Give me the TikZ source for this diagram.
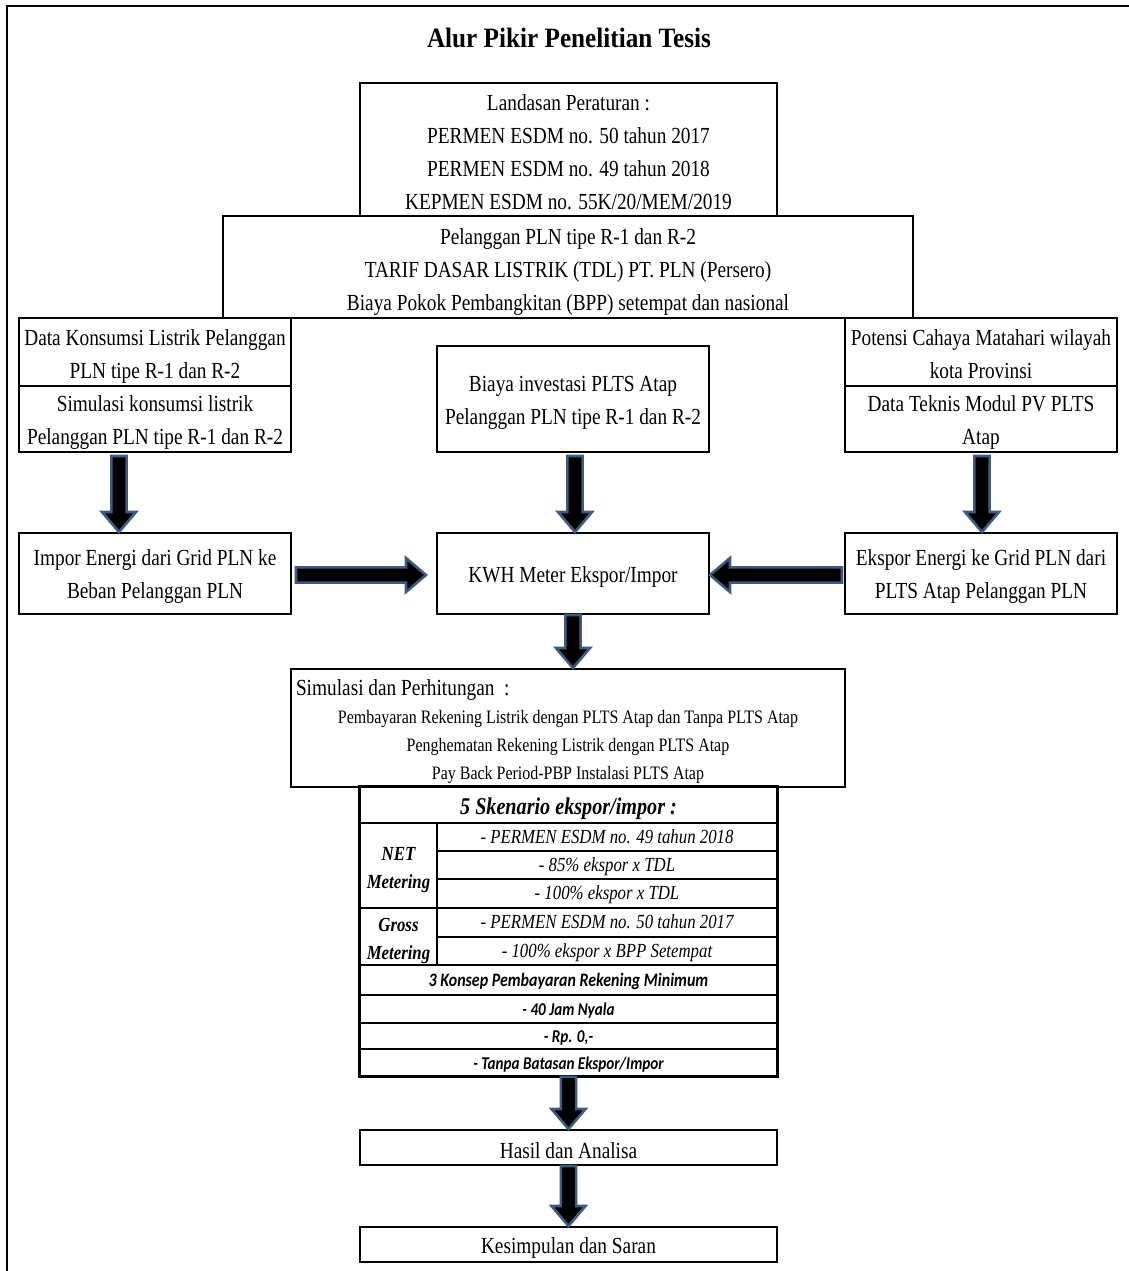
\documentclass[tikz,border=0pt]{standalone}
\usepackage{fontspec}
\setmainfont{Liberation Serif}[FakeStretch=0.84]
\newfontfamily\titlefont{Liberation Serif}[FakeStretch=0.9]
\newfontfamily\calfont{Carlito}[FakeStretch=0.84]
\usetikzlibrary{calc,positioning}
\definecolor{arrowblue}{RGB}{62,92,130}
\newcommand{\fsnorm}{\fontsize{11.5pt}{16.5pt}\selectfont}
\newcommand{\fssmall}{\fontsize{9.5pt}{14pt}\selectfont}
\newcommand{\fstab}{\fontsize{10pt}{14pt}\selectfont}
\newcommand{\lift}[1]{\rule{0pt}{#1}}

\begin{document}
\begin{tikzpicture}[x=0.5pt,y=-0.5pt,
  box/.style={draw,line width=1pt,inner sep=0pt,align=center,font=\fsnorm},
  cell/.style={draw,line width=0.9pt,inner sep=0pt,align=center,font=\fstab\itshape},
  rowcell/.style={cell,minimum width=170pt,text height=7.5pt,text depth=1.5pt},
  calcell/.style={cell,minimum width=208.5pt,text height=7.5pt,text depth=1pt,
    font=\calfont\fontsize{9pt}{11pt}\selectfont\bfseries\itshape},
  bigarr/.style={draw=arrowblue,fill=black,line width=1.3pt,line join=miter,
    to path={($(\tikztostart)!3.8pt!90:(\tikztotarget)$)
      -- ($(\tikztotarget)!10pt!(\tikztostart)!3.8pt!-90:(\tikztostart)$)
      -- ($(\tikztotarget)!10pt!(\tikztostart)!8.5pt!-90:(\tikztostart)$)
      -- (\tikztotarget)
      -- ($(\tikztotarget)!10pt!(\tikztostart)!8.5pt!90:(\tikztostart)$)
      -- ($(\tikztotarget)!10pt!(\tikztostart)!3.8pt!90:(\tikztostart)$)
      -- ($(\tikztostart)!3.8pt!-90:(\tikztotarget)$) -- cycle}}
]
\useasboundingbox (0,0) rectangle (1129,1271);
\draw[line width=1.2pt] (1129,6) -- (7,6) -- (7,1271);

\node[font=\titlefont\bfseries\fontsize{14pt}{16pt}\selectfont] (judul) at (569,38) {Alur Pikir Penelitian Tesis};

% regulasi dan tarif
\node[box,minimum width=208.5pt,minimum height=66.5pt] (landasan) at (568.5,149.5)
  {\lift{11pt}Landasan Peraturan :\\PERMEN ESDM no. 50 tahun 2017\\PERMEN ESDM no. 49 tahun 2018\\KEPMEN ESDM no. 55K/20/MEM/2019};
\node[box,minimum width=345pt,minimum height=51pt] (pelanggan) at (568,267)
  {\lift{13pt}Pelanggan PLN tipe R-1 dan R-2\\TARIF DASAR LISTRIK (TDL) PT. PLN (Persero)\\Biaya Pokok Pembangkitan (BPP) setempat dan nasional};

% data masukan
\node[box,minimum width=136pt,minimum height=34pt] (konsumsi) at (155,352) {\lift{12pt}Data Konsumsi Listrik Pelanggan\\PLN tipe R-1 dan R-2};
\node[box,minimum width=136pt,minimum height=33pt] (simkons) at (155,419) {\lift{11pt}Simulasi konsumsi listrik\\Pelanggan PLN tipe R-1 dan R-2};
\node[box,minimum width=136pt,minimum height=53pt] (investasi) at (573,399) {\lift{11pt}Biaya investasi PLTS Atap\\Pelanggan PLN tipe R-1 dan R-2};
\node[box,minimum width=136pt,minimum height=34pt] (potensi) at (981,352) {\lift{10pt}Potensi Cahaya Matahari wilayah\\kota Provinsi};
\node[box,minimum width=136pt,minimum height=33pt] (teknis) at (981,419) {\lift{11pt}Data Teknis Modul PV PLTS\\Atap};

% aliran energi
\node[box,minimum width=136pt,minimum height=40.5pt] (impor) at (155,573.5) {\lift{11pt}Impor Energi dari Grid PLN ke\\Beban Pelanggan PLN};
\node[box,minimum width=136pt,minimum height=40.5pt] (kwh) at (573,573.5) {\lift{11pt}KWH Meter Ekspor/Impor};
\node[box,minimum width=136pt,minimum height=40.5pt] (ekspor) at (981,573.5) {\lift{11pt}Ekspor Energi ke Grid PLN dari\\PLTS Atap Pelanggan PLN};

\node[box,minimum width=277pt,minimum height=59pt] (simulasi) at (568,728)
  {\begin{minipage}{272pt}\fsnorm\lift{12pt}Simulasi dan Perhitungan~~:\par
   \centering\fssmall Pembayaran Rekening Listrik dengan PLTS Atap dan Tanpa PLTS Atap\\
   Penghematan Rekening Listrik dengan PLTS Atap\\
   Pay Back Period-PBP Instalasi PLTS Atap\end{minipage}};

% tabel skenario
\node[cell,minimum width=208.5pt,minimum height=18pt,font=\fontsize{12pt}{14pt}\selectfont\bfseries\itshape] (skenario) at (568.5,805) {\lift{12pt}5 Skenario ekspor/impor :};
\node[cell,minimum width=38.5pt,minimum height=42.5pt,font=\fstab\bfseries\itshape] (net) at (398.5,865.5) {\lift{11pt}NET\\Metering};
\node[cell,minimum width=38.5pt,minimum height=28.5pt,font=\fstab\bfseries\itshape] (gross) at (398.5,936.5) {\lift{11pt}Gross\\Metering};
\node[rowcell,minimum height=14pt] (r1) at (607,837) {- PERMEN ESDM no. 49 tahun 2018};
\node[rowcell,minimum height=14pt] (r2) at (607,865) {- 85\% ekspor x TDL};
\node[rowcell,minimum height=14.5pt] (r3) at (607,893.5) {- 100\% ekspor x TDL};
\node[rowcell,minimum height=14.5pt] (r4) at (607,922.5) {- PERMEN ESDM no. 50 tahun 2017};
\node[rowcell,minimum height=14pt] (r5) at (607,951) {- 100\% ekspor x BPP Setempat};
\node[calcell,minimum height=15pt,font=\calfont\fontsize{9.5pt}{11pt}\selectfont\bfseries\itshape] (konsep) at (568.5,980) {3 Konsep Pembayaran Rekening Minimum};
\node[calcell,minimum height=14pt] (jam) at (568.5,1009) {- 40 Jam Nyala};
\node[calcell,minimum height=13pt] (rp) at (568.5,1036) {- Rp. 0,-};
\node[calcell,minimum height=13.5pt] (tanpa) at (568.5,1062.5) {- Tanpa Batasan Ekspor/Impor};
\draw[line width=1.2pt] (skenario.north west) rectangle (tanpa.south east);

\node[box,minimum width=208.5pt,minimum height=17.5pt] (hasil) at (568.5,1147.5) {\lift{11pt}Hasil dan Analisa};
\node[box,minimum width=208.5pt,minimum height=17.5pt] (kesimpulan) at (568.5,1244.5) {\lift{11pt}Kesimpulan dan Saran};

% panah
\coordinate (a1) at ($(simkons.south)+(-36,3)$);
\coordinate (a2) at ($(investasi.south)+(2,3)$);
\coordinate (a3) at ($(teknis.south)+(1,3)$);
\coordinate (a4) at ($(impor.east)+(4,1.5)$);
\coordinate (a4e) at ($(a4 -| kwh.west)+(-10,0)$);
\coordinate (a5) at ($(ekspor.west)+(-2,1.5)$);
\draw[bigarr] (a1) to (a1 |- impor.north);
\draw[bigarr] (a2) to (a2 |- kwh.north);
\draw[bigarr] (a3) to (a3 |- ekspor.north);
\draw[bigarr] (a4) to (a4e);
\draw[bigarr] (a5) to (a5 -| kwh.east);
\draw[bigarr] (kwh.south) to (kwh.south |- simulasi.north);
\draw[bigarr] (tanpa.south) to (hasil.north);
\draw[bigarr] (hasil.south) to (kesimpulan.north);
\end{tikzpicture}
\end{document}
